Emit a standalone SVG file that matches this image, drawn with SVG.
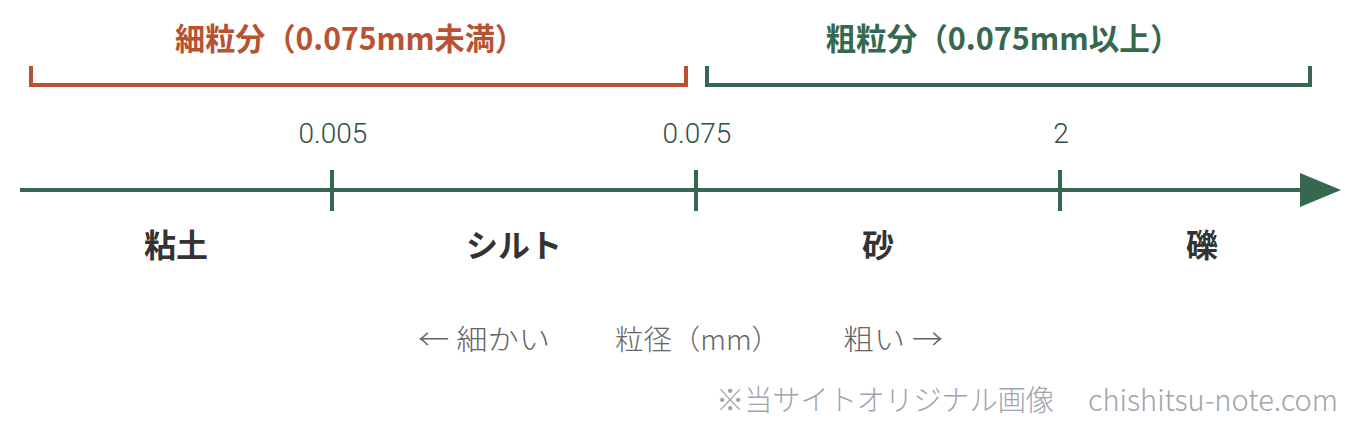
<svg xmlns="http://www.w3.org/2000/svg" width="1360" height="429" viewBox="0 0 1360 429">
<style>
.t{font-family:"Noto Sans CJK JP","Noto Sans",sans-serif;}
.title{font-size:31px;font-weight:700;text-anchor:middle;}
.tick{font-family:"Roboto","Noto Sans CJK JP",sans-serif;font-size:28px;font-weight:300;fill:#2f4f47;text-anchor:middle;}
.cat{font-size:32px;font-weight:700;fill:#333;text-anchor:middle;}
.axis{stroke:#36684f;stroke-width:4;fill:none;}
.lab{font-size:28px;font-weight:300;fill:#666;}
.cr{font-size:29px;font-weight:300;fill:#a0a4ad;}
</style>
<rect width="1360" height="429" fill="#fff"/>
<g id="fine">
<text class="t title" x="350" y="50" fill="#b85232" textLength="350" lengthAdjust="spacingAndGlyphs">細粒分（0.075mm未満）</text>
<path d="M31 66 V85 H686 V66" fill="none" stroke="#b85232" stroke-width="4"/>
</g>
<g id="coarse">
<text class="t title" x="1003" y="50" fill="#36684f" textLength="355" lengthAdjust="spacingAndGlyphs">粗粒分（0.075mm以上）</text>
<path d="M707 66 V85 H1310 V66" fill="none" stroke="#36684f" stroke-width="4"/>
</g>
<g id="connectors">
<line class="axis" x1="20" y1="190" x2="1310" y2="190"/>
<polygon points="1300,173 1341,190 1300,207" fill="#36684f"/>
<line class="axis" x1="332" y1="170" x2="332" y2="211"/>
<line class="axis" x1="696" y1="170" x2="696" y2="211"/>
<line class="axis" x1="1060" y1="170" x2="1060" y2="211"/>
</g>
<g id="ticks">
<text class="tick" x="333" y="143">0.005</text>
<text class="tick" x="697" y="143">0.075</text>
<text class="tick" x="1061" y="143">2</text>
</g>
<g id="clay"><text class="t cat" x="176" y="257">粘土</text></g>
<g id="silt"><text class="t cat" x="514" y="257">シルト</text></g>
<g id="sand"><text class="t cat" x="878" y="257">砂</text></g>
<g id="gravel"><text class="t cat" x="1202" y="257">礫</text></g>
<g id="axis-label">
<text class="t lab" x="418" y="350" textLength="132" lengthAdjust="spacingAndGlyphs">← 細かい</text>
<text class="t lab" x="615" y="350" textLength="165" lengthAdjust="spacingAndGlyphs">粒径（mm）</text>
<text class="t lab" x="843" y="350" textLength="100" lengthAdjust="spacingAndGlyphs">粗い →</text>
</g>
<g id="credit">
<text class="t cr" x="716" y="411" textLength="338" lengthAdjust="spacingAndGlyphs">※当サイトオリジナル画像</text>
<text class="t cr" x="1088" y="411" textLength="250" lengthAdjust="spacingAndGlyphs">chishitsu-note.com</text>
</g>
</svg>
